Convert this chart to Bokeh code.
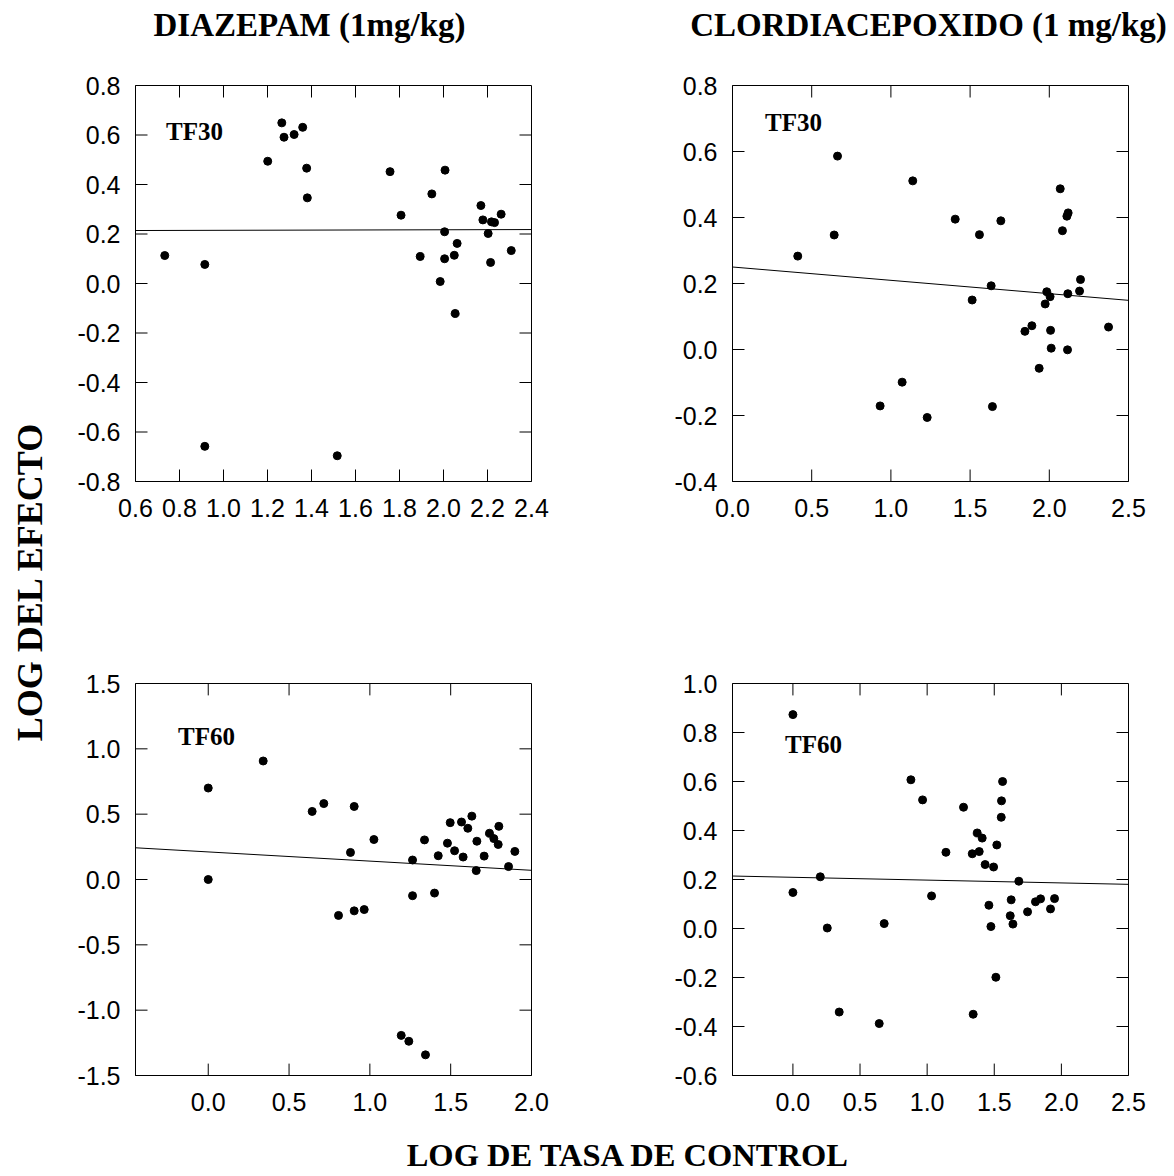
import numpy as np
from bokeh.plotting import figure
from bokeh.models import Range1d, FixedTicker, NumeralTickFormatter
from bokeh.layouts import column, row
from bokeh.core.properties import value
from bokeh.embed import file_html
from bokeh.resources import INLINE

# ---------------- data ----------------
# DIAZEPAM TF30
d30_x = [0.733, 0.915, 0.915, 1.201, 1.265, 1.275, 1.321, 1.360, 1.378, 1.381,
         1.517, 1.757, 1.807, 1.894, 1.947, 1.985, 2.007, 2.005, 2.005, 2.049,
         2.062, 2.053, 2.170, 2.179, 2.203, 2.218, 2.232, 2.214, 2.262, 2.308]
d30_y = [0.113, 0.077, -0.658, 0.494, 0.649, 0.591, 0.602, 0.631, 0.466, 0.346,
         -0.696, 0.452, 0.276, 0.109, 0.362, 0.008, 0.458, 0.209, 0.100, 0.114,
         0.162, -0.121, 0.315, 0.257, 0.202, 0.249, 0.246, 0.085, 0.280, 0.133]
d30_fit = (0.2127, 0.0022)   # intercept, slope

# CLORDIACEPOXIDO TF30
c30_x = [0.412, 0.642, 0.663, 0.932, 1.071, 1.138, 1.229, 1.406, 1.513, 1.559,
         1.633, 1.641, 1.694, 1.846, 1.890, 1.936, 1.974, 1.984, 2.005, 2.008,
         2.012, 2.069, 2.083, 2.111, 2.119, 2.117, 2.115, 2.191, 2.197, 2.374]
c30_y = [0.283, 0.347, 0.586, -0.171, -0.099, 0.511, -0.206, 0.395, 0.150, 0.348,
         0.193, -0.173, 0.390, 0.055, 0.072, -0.057, 0.138, 0.175, 0.160, 0.058,
         0.004, 0.487, 0.360, 0.404, 0.414, 0.169, -0.001, 0.177, 0.212, 0.068]
c30_fit = (0.250, -0.0404)

# DIAZEPAM TF60
d60_x = [0.0, 0.0, 0.340, 0.643, 0.715, 0.806, 0.880, 0.903, 0.903, 0.965,
         1.025, 1.194, 1.241, 1.264, 1.264, 1.338, 1.344, 1.400, 1.423, 1.480,
         1.497, 1.524, 1.567, 1.577, 1.606, 1.631, 1.658, 1.662, 1.707, 1.740,
         1.767, 1.794, 1.798, 1.858, 1.897]
d60_y = [0.700, 0.000, 0.907, 0.521, 0.581, -0.275, 0.207, 0.559, -0.240, -0.230,
         0.306, -1.193, -1.238, 0.149, -0.124, 0.303, -1.342, -0.104, 0.182, 0.278,
         0.435, 0.220, 0.440, 0.172, 0.392, 0.485, 0.068, 0.293, 0.179, 0.354,
         0.313, 0.268, 0.407, 0.099, 0.215]
d60_fit = (0.211, -0.0703)

# CLORDIACEPOXIDO TF60
c60_x = [0.0, 0.0, 0.204, 0.256, 0.345, 0.643, 0.680, 0.879, 0.966, 1.033,
         1.140, 1.271, 1.336, 1.343, 1.373, 1.388, 1.410, 1.432, 1.460, 1.475,
         1.495, 1.512, 1.519, 1.552, 1.554, 1.562, 1.619, 1.626, 1.639, 1.683,
         1.748, 1.807, 1.845, 1.919, 1.949]
c60_y = [0.873, 0.147, 0.211, 0.002, -0.341, -0.388, 0.020, 0.607, 0.525, 0.133,
         0.311, 0.495, 0.305, -0.350, 0.390, 0.314, 0.369, 0.261, 0.095, 0.008,
         0.251, -0.199, 0.341, 0.454, 0.521, 0.600, 0.052, 0.117, 0.018, 0.193,
         0.068, 0.109, 0.121, 0.080, 0.122]
c60_fit = (0.209, -0.0115)

# ticks
xt_d30 = [0.6, 0.8, 1.0, 1.2, 1.4, 1.6, 1.8, 2.0, 2.2, 2.4]
yt_d30 = [-0.8, -0.6, -0.4, -0.2, 0.0, 0.2, 0.4, 0.6, 0.8]
xt_c30 = [0.0, 0.5, 1.0, 1.5, 2.0, 2.5]
yt_c30 = [-0.4, -0.2, 0.0, 0.2, 0.4, 0.6, 0.8]
xt_d60 = [0.0, 0.5, 1.0, 1.5, 2.0]
yt_d60 = [-1.5, -1.0, -0.5, 0.0, 0.5, 1.0, 1.5]
xt_c60 = [0.0, 0.5, 1.0, 1.5, 2.0, 2.5]
yt_c60 = [-0.6, -0.4, -0.2, 0.0, 0.2, 0.4, 0.6, 0.8, 1.0]

title_left = "DIAZEPAM (1mg/kg)"
title_right = "CLORDIACEPOXIDO (1 mg/kg)"
y_title = "LOG DEL EFECTO"
x_title = "LOG DE TASA DE CONTROL"

SANS = "Liberation Sans"
SERIF = "Liberation Serif"
TICK_SIZE = "25px"
TICK_LEN = 12  # px, drawn inward on all four sides


def style_axis(ax, ticks, standoff):
    ax.ticker = FixedTicker(ticks=ticks)
    ax.major_tick_in = 0
    ax.major_tick_out = 0
    ax.major_tick_line_color = None
    ax.minor_tick_line_color = None
    ax.axis_line_color = "black"
    ax.formatter = NumeralTickFormatter(format="0.0")
    ax.major_label_text_font = SANS
    ax.major_label_text_font_size = TICK_SIZE
    ax.major_label_text_color = "black"
    ax.major_label_standoff = standoff


def make_panel(xs, ys, xr, yr, xt, yt, fit, tag, tag_pos, width, height, bl, br, bt, bb):
    p = figure(width=width, height=height, output_backend="svg", toolbar_location=None,
               x_range=Range1d(*xr), y_range=Range1d(*yr),
               min_border_left=bl, min_border_right=br, min_border_top=bt, min_border_bottom=bb)
    p.grid.visible = False
    p.outline_line_color = "black"
    p.background_fill_color = "white"
    p.border_fill_color = "white"
    style_axis(p.xaxis[0], xt, 17)
    style_axis(p.yaxis[0], yt, 15)

    # inward ticks on all four sides (frame size in px -> data length)
    fw = width - bl - br
    fh = height - bt - bb
    dx = TICK_LEN * (xr[1] - xr[0]) / fw
    dy = TICK_LEN * (yr[1] - yr[0]) / fh
    xin = [t for t in xt if xr[0] < t < xr[1]]
    yin = [t for t in yt if yr[0] < t < yr[1]]
    nx, ny = len(xin), len(yin)
    p.segment(x0=xin + xin, y0=[yr[0]] * nx + [yr[1]] * nx,
              x1=xin + xin, y1=[yr[0] + dy] * nx + [yr[1] - dy] * nx,
              line_color="black", line_width=1)
    p.segment(x0=[xr[0]] * ny + [xr[1]] * ny, y0=yin + yin,
              x1=[xr[0] + dx] * ny + [xr[1] - dx] * ny, y1=yin + yin,
              line_color="black", line_width=1)

    lx = np.array(xr, dtype=float)
    ly = fit[0] + fit[1] * lx
    p.line(lx, ly, line_color="black", line_width=1)
    p.scatter(xs, ys, size=8, color="black")
    p.text(x=[tag_pos[0]], y=[tag_pos[1]], text=[tag], text_font=value(SERIF),
           text_font_style="bold", text_font_size="25px", text_align="center",
           text_baseline="middle", text_color="black")
    return p


def strip(width, height):
    s = figure(width=width, height=height, output_backend="svg", toolbar_location=None,
               x_range=Range1d(0, width), y_range=Range1d(0, height),
               x_axis_type=None, y_axis_type=None, min_border=0)
    s.outline_line_color = None
    s.background_fill_color = "white"
    s.border_fill_color = "white"
    return s


p1 = make_panel(d30_x, d30_y, (0.6, 2.4), (-0.8, 0.8), xt_d30, yt_d30, d30_fit,
                "TF30", (0.868, 0.614), 570, 520, 75, 99, 25, 99)
p2 = make_panel(c30_x, c30_y, (0.0, 2.5), (-0.4, 0.8), xt_c30, yt_c30, c30_fit,
                "TF30", (0.385, 0.688), 544, 520, 102, 46, 25, 99)
p3 = make_panel(d60_x, d60_y, (-0.45, 2.0), (-1.5, 1.5), xt_d60, yt_d60, d60_fit,
                "TF60", (-0.011, 1.091), 570, 546, 75, 99, 99, 51)
p4 = make_panel(c60_x, c60_y, (-0.45, 2.5), (-0.6, 1.0), xt_c60, yt_c60, c60_fit,
                "TF60", (0.153, 0.749), 544, 546, 102, 46, 103, 48)

head = strip(1174, 60)
head.text(x=[309, 928], y=[36, 36], text=[title_left, title_right], text_font=value(SERIF),
          text_font_style="bold", text_font_size="33px", text_align="center",
          text_baseline="middle", text_color="black")

ylab = strip(60, 1066)
ylab.text(x=[29], y=[545], text=[y_title], text_font=value(SERIF), text_font_style="bold",
          text_font_size="36px", text_align="center", text_baseline="middle",
          angle=np.pi / 2, text_color="black")

foot = strip(1174, 50)
foot.text(x=[628], y=[22], text=[x_title], text_font=value(SERIF), text_font_style="bold",
          text_font_size="32.5px", text_align="center", text_baseline="middle",
          text_color="black")

layout = column(head, row(ylab, column(row(p1, p2), row(p3, p4))), foot)

open("out.html", "w").write(file_html(layout, INLINE))
